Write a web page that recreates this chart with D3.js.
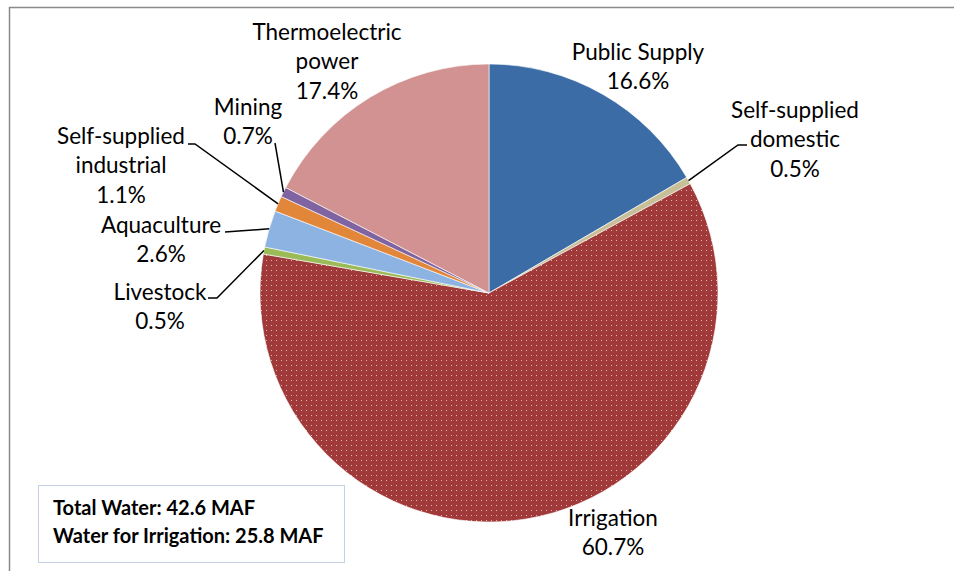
<!DOCTYPE html>
<html>
<head>
<meta charset="utf-8">
<script src="https://cdn.jsdelivr.net/npm/d3@7"></script>
<style>
  body { margin: 0; background: #fff; }
  svg { display: block; }
  text { font-family: Lato, "Open Sans", sans-serif; fill: #000; }
</style>
</head>
<body>
<svg id="chart" width="954" height="571"></svg>
<script>
// water use shares (%)
var categories = ["Public Supply", "Self-supplied domestic", "Irrigation", "Livestock",
                  "Aquaculture", "Self-supplied industrial", "Mining", "Thermoelectric power"];
var values = [16.6, 0.5, 60.7, 0.5, 2.6, 1.1, 0.7, 17.4];
var labelLines = [
  ["Public Supply"],
  ["Self-supplied", "domestic"],
  ["Irrigation"],
  ["Livestock"],
  ["Aquaculture"],
  ["Self-supplied", "industrial"],
  ["Mining"],
  ["Thermoelectric", "power"]
];
var boxLines = ["Total Water: 42.6 MAF", "Water for Irrigation: 25.8 MAF"];

var colors = ["#3c6ca6", "#c7bf98", "#a0393a", "#9bbb59", "#8db3e2", "#e2863a", "#8064a2", "#d19291"];

// label layout: center x, y of first line, optional leader (elbow, end)
var labelLayout = [
  {x: 638, y: 52},
  {x: 795, y: 110, elbow: [738, 145], end: [747, 145]},
  {x: 613, y: 518},
  {x: 160, y: 292, elbow: [217, 298], end: [208, 298]},
  {x: 161, y: 225, elbow: [225, 232], end: [225, 232]},
  {x: 121, y: 136, elbow: [195, 144], end: [188, 144]},
  {x: 248, y: 107, elbow: [275, 143], end: [275, 143]},
  {x: 327, y: 32}
];

var cx = 489, cy = 293, radius = 229, lineH = 29.5;

var svg = d3.select("#chart");

// dotted fill for irrigation
var defs = svg.append("defs");
var pat = defs.append("pattern")
    .attr("id", "dots")
    .attr("patternUnits", "userSpaceOnUse")
    .attr("width", 5)
    .attr("height", 5);
pat.append("rect").attr("width", 5).attr("height", 5).attr("fill", colors[2]);
pat.append("rect").attr("x", 2).attr("y", 2).attr("width", 1).attr("height", 1)
    .attr("fill", "#e4b4ac");

// outer chart border (cropped on right/bottom)
svg.append("rect")
    .attr("x", 9.5).attr("y", 7.5)
    .attr("width", 1000).attr("height", 700)
    .attr("fill", "none")
    .attr("stroke", "#8a8a8a")
    .attr("stroke-width", 1.5);

var data = categories.map(function(c, i) {
  return {name: c, value: values[i], lines: labelLines[i], lay: labelLayout[i], color: colors[i]};
});

var pie = d3.pie().sort(null).value(function(d) { return d.value; });
var arc = d3.arc().innerRadius(0).outerRadius(radius);
var edgeArc = d3.arc().innerRadius(radius).outerRadius(radius);

var g = svg.append("g").attr("transform", "translate(" + cx + "," + cy + ")");

g.selectAll("path.slice")
    .data(pie(data))
    .enter()
    .append("path")
    .attr("class", "slice")
    .attr("d", arc)
    .attr("fill", function(d, i) { return i == 2 ? "url(#dots)" : d.data.color; })
    .attr("stroke", "#fff")
    .attr("stroke-width", 0.6);

// leader lines
g.selectAll("path.leader")
    .data(pie(data).filter(function(d) { return d.data.lay.elbow; }))
    .enter()
    .append("path")
    .attr("class", "leader")
    .attr("fill", "none")
    .attr("stroke", "#000")
    .attr("stroke-width", 1.5)
    .attr("d", function(d) {
      var p = edgeArc.centroid(d);
      var e = d.data.lay.elbow, f = d.data.lay.end;
      return "M" + p[0] + "," + p[1] +
             "L" + (e[0] - cx) + "," + (e[1] - cy) +
             "L" + (f[0] - cx) + "," + (f[1] - cy);
    });

// labels
var fmt = d3.format(".1f");
var lab = svg.selectAll("text.lab")
    .data(data)
    .enter()
    .append("text")
    .attr("class", "lab")
    .attr("text-anchor", "middle")
    .style("font-size", "22.5px");

lab.each(function(d) {
  var t = d3.select(this);
  var all = d.lines.concat([fmt(d.value) + "%"]);
  all.forEach(function(s, k) {
    t.append("tspan")
      .attr("x", d.lay.x)
      .attr("y", d.lay.y + k * lineH)
      .attr("dy", "0.35em")
      .text(s);
  });
});

// summary box
svg.append("rect")
    .attr("x", 38.5).attr("y", 485.5)
    .attr("width", 306).attr("height", 77)
    .attr("fill", "#fff")
    .attr("stroke", "#c5d0e6")
    .attr("stroke-width", 1);

svg.selectAll("text.box")
    .data(boxLines)
    .enter()
    .append("text")
    .attr("class", "box")
    .attr("x", 53)
    .attr("y", function(d, i) { return 515 + i * 28; })
    .style("font-size", "20px")
    .style("font-weight", "bold")
    .text(function(d) { return d; });
</script>
</body>
</html>
